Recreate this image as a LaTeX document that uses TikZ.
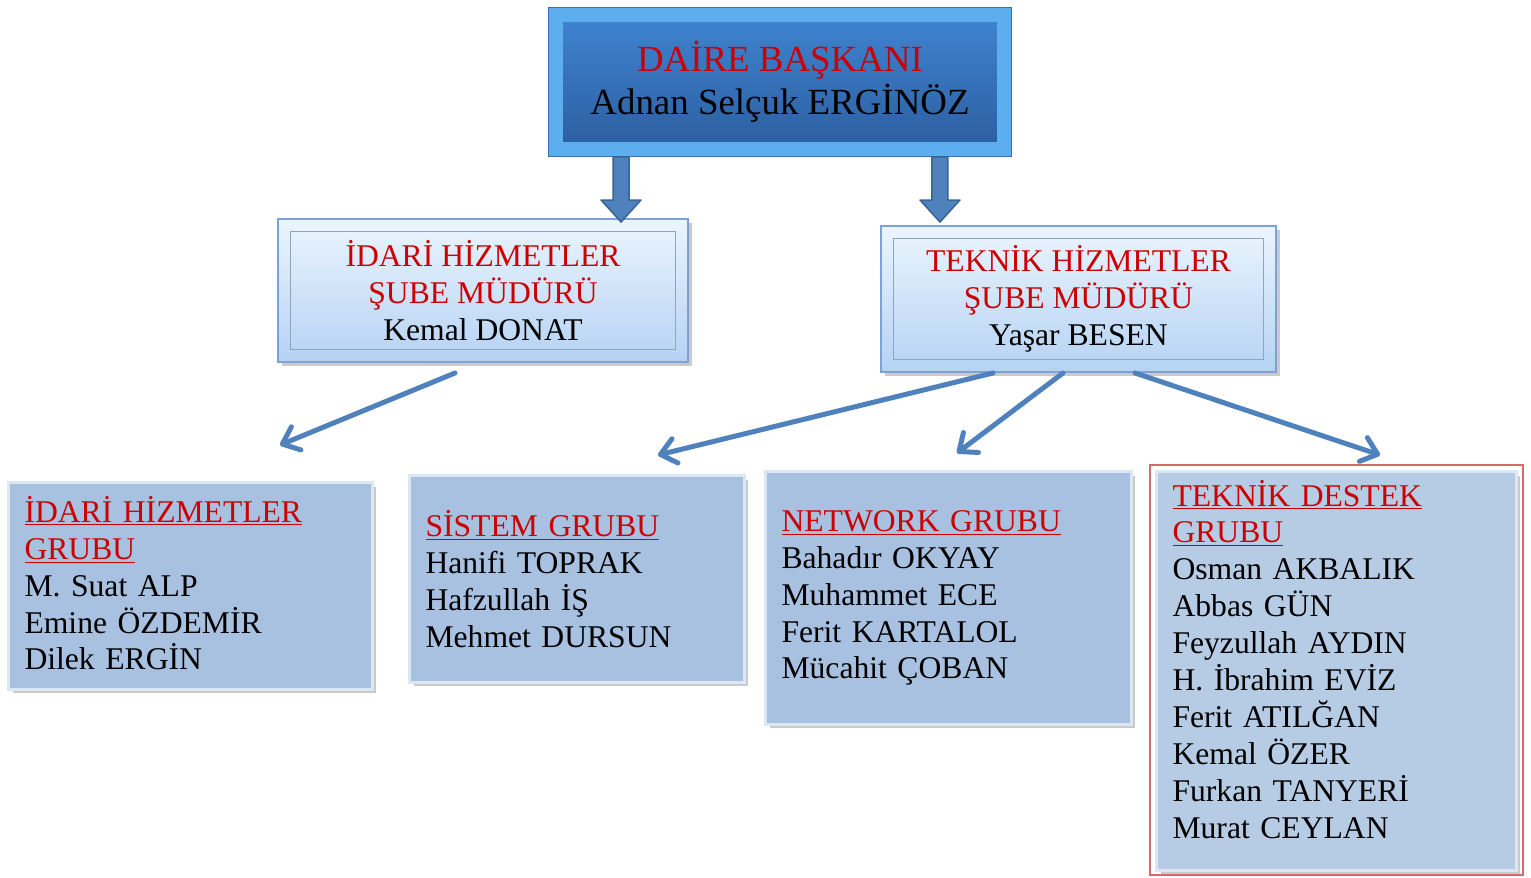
\documentclass[tikz,border=0pt]{standalone}
\usepackage{fontspec}
\setmainfont{Liberation Serif}
\usetikzlibrary{arrows.meta,shadows,calc}

\definecolor{titlered}{HTML}{CC0000}
\definecolor{chiefframe}{HTML}{5CAEEF}
\definecolor{chieftop}{HTML}{3F84D2}
\definecolor{chiefbottom}{HTML}{2C5E9F}
\definecolor{chiefedge}{HTML}{3670B5}
\definecolor{mgrtop}{HTML}{EBF5FE}
\definecolor{mgrbottom}{HTML}{B5D2F3}
\definecolor{mgredge}{HTML}{7BA3D8}
\definecolor{mgrline}{HTML}{90A4C0}
\definecolor{grpfill}{HTML}{A8C1E1}
\definecolor{grpfilllight}{HTML}{B6CBE4}
\definecolor{grpedge}{HTML}{DCE7F4}
\definecolor{grpred}{HTML}{D46A6A}
\definecolor{linkblue}{HTML}{4F81BD}
\definecolor{blockedge}{HTML}{3A6396}

\begin{document}
\begin{tikzpicture}[x=0.02cm,y=-0.02cm,
	boxshadow/.style={drop shadow={shadow xshift=0.08cm,shadow yshift=-0.08cm,opacity=0.35,fill=black!60}},
	chief/.style={draw=chiefframe,line width=0.3cm,top color=chieftop,bottom color=chiefbottom,
		minimum width=8.98cm,minimum height=2.7cm,align=center,boxshadow,
		font=\fontsize{21}{24.5}\selectfont},
	manager/.style={draw=mgredge,line width=0.04cm,top color=mgrtop,bottom color=mgrbottom,
		align=center,boxshadow,font=\fontsize{18}{21}\selectfont},
	group/.style={draw=grpedge,line width=0.06cm,fill=grpfill,align=left,inner xsep=0.32cm,
		boxshadow,font=\fontsize{18}{21}\selectfont},
	link/.style={draw=linkblue,line width=0.1cm,line cap=round,
		-{Straight Barb[length=0.3cm,width=0.5cm,round]}},
	blockarrow/.style={draw=blockedge,fill=linkblue,line width=0.03cm,line join=round}]
	\useasboundingbox (0,0) rectangle (1531,877);
	
	%CHIEF
	\node[chief] (daire) at (780,82) {\textcolor{titlered}{DAİRE BAŞKANI}\\Adnan Selçuk ERGİNÖZ};
	\draw[chiefedge,line width=0.02cm] (daire.north west) rectangle (daire.south east);
	
	%MANAGERS
	\node[manager,minimum width=8.2cm,minimum height=2.86cm] (idari) at (483,290.5)
		{\textcolor{titlered}{İDARİ HİZMETLER}\\\textcolor{titlered}{ŞUBE MÜDÜRÜ}\\Kemal DONAT};
	\node[manager,minimum width=7.9cm,minimum height=2.92cm] (teknik) at (1078.5,299)
		{\textcolor{titlered}{TEKNİK HİZMETLER}\\\textcolor{titlered}{ŞUBE MÜDÜRÜ}\\Yaşar BESEN};
	\draw[mgrline,line width=0.02cm] ([shift={(13,13)}]idari.north west) rectangle ([shift={(-13,-13)}]idari.south east);
	\draw[mgrline,line width=0.02cm] ([shift={(13,13)}]teknik.north west) rectangle ([shift={(-13,-13)}]teknik.south east);
	
	%GROUPS
	\node[group,text width=6.64cm,minimum height=4.14cm] (idarigrp) at (190.5,586)
		{\textcolor{titlered}{\underline{İDARİ HİZMETLER}}\\\textcolor{titlered}{\underline{GRUBU}}\\
		M. Suat ALP\\Emine ÖZDEMİR\\Dilek ERGİN\\[-0.62cm]\mbox{}};
	\node[group,text width=6.06cm,minimum height=4.14cm] (sistem) at (577,579)
		{\textcolor{titlered}{\underline{SİSTEM GRUBU}}\\Hanifi TOPRAK\\Hafzullah İŞ\\Mehmet DURSUN};
	\node[group,text width=6.68cm,minimum height=5.06cm] (network) at (948.5,598)
		{\textcolor{titlered}{\underline{NETWORK GRUBU}}\\Bahadır OKYAY\\Muhammet ECE\\Ferit KARTALOL\\Mücahit ÇOBAN};
	\node[group,fill=grpfilllight,text width=6.56cm,minimum height=7.98cm] (destek) at (1336.5,671)
		{\textcolor{titlered}{\underline{TEKNİK DESTEK}}\\\textcolor{titlered}{\underline{GRUBU}}\\
		Osman AKBALIK\\Abbas GÜN\\Feyzullah AYDIN\\H. İbrahim EVİZ\\Ferit ATILĞAN\\Kemal ÖZER\\
		Furkan TANYERİ\\Murat CEYLAN\\[-0.26cm]\mbox{}};
	\draw[grpred,line width=0.03cm] ([shift={(-5,-5)}]destek.north west) rectangle ([shift={(5,3)}]destek.south east);
	
	%BLOCK ARROWS
	\coordinate (dl) at ($(daire.south west)+(73,0)$);
	\coordinate (dr) at ($(daire.south east)+(-72,0)$);
	\filldraw[blockarrow] ($(dl)+(-8,0)$) -- ($(dl |- idari.north)+(-8,-18)$) -- ++(-12,0)
		-- ($(dl |- idari.north)+(0,4)$) -- ++(20,-22) -- ++(-12,0) -- ($(dl)+(8,0)$) -- cycle;
	\filldraw[blockarrow] ($(dr)+(-8,0)$) -- ($(dr |- teknik.north)+(-8,-25)$) -- ++(-12,0)
		-- ($(dr |- teknik.north)+(0,-3)$) -- ++(20,-22) -- ++(-12,0) -- ($(dr)+(8,0)$) -- cycle;
	
	%LINKS
	\draw[link] ($(idari.south)+(-28,10)$) -- ($(idarigrp.north)+(89.5,-36)$);
	\draw[link] ($(teknik.south)+(-85.5,0)$) -- ($(sistem.north)+(81,-19)$);
	\draw[link] ($(teknik.south)+(-15.5,0)$) -- ($(network.north)+(8.5,-17)$);
	\draw[link] ($(teknik.south)+(56.5,0)$) -- ($(destek.north)+(43.5,-15)$);
\end{tikzpicture}
\end{document}
